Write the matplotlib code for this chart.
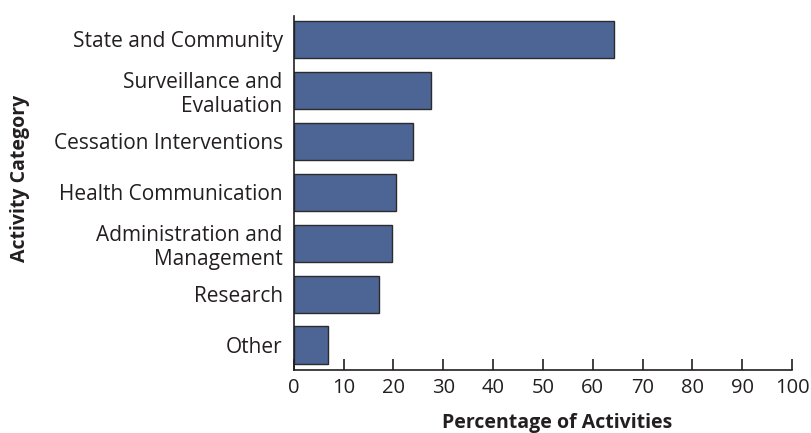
import matplotlib
matplotlib.use("Agg")
import matplotlib.pyplot as plt

categories = ["State and Community", "Surveillance and\nEvaluation", "Cessation Interventions",
              "Health Communication", "Administration and\nManagement", "Research", "Other"]
values = [64.2, 27.5, 24.0, 20.6, 19.8, 17.2, 6.9]
xticks = [0, 10, 20, 30, 40, 50, 60, 70, 80, 90, 100]

plt.rcParams['font.family'] = ['Open Sans', 'DejaVu Sans']
txt = '#231f20'

fig = plt.figure(figsize=(8.12, 4.33), dpi=100)
ax = fig.add_axes([293.8/812, 63/433, 498.2/812, 354/433])

pos = list(range(len(categories)))[::-1]
ax.barh(pos, values, height=0.73, color='#4d6595', edgecolor='#2b2b2b', linewidth=1.0)

ax.set_xlim(0, 100)
ax.set_ylim(-0.49, 6.46)
ax.set_xticks(xticks)
ax.set_xticklabels([str(t) for t in xticks], fontsize=14.5, color=txt)
ax.set_yticks(pos)
ax.set_yticklabels(categories, fontsize=15, color=txt, linespacing=1.2)
ax.tick_params(axis='x', direction='in', length=8, width=1.2, color='#231f20', pad=6)
ax.tick_params(axis='y', length=0, pad=8)
for s in ['top', 'right']:
    ax.spines[s].set_visible(False)
for s in ['left', 'bottom']:
    ax.spines[s].set_linewidth(1.2)
    ax.spines[s].set_color('#231f20')

fig.text(557/812, 1 - 428/433, "Percentage of Activities", fontsize=14, fontweight='bold',
         color=txt, ha='center', va='baseline')
fig.text(20/812, 1 - 178/433, "Activity Category", rotation=90, fontsize=14, fontweight='bold',
         color=txt, ha='center', va='center')

fig.savefig("out.png", dpi=100)
